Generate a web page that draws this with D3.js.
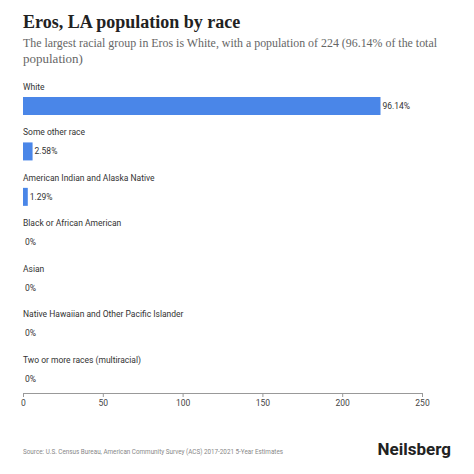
<!DOCTYPE html>
<html><head><meta charset="utf-8">
<script src="https://cdn.jsdelivr.net/npm/d3@7"></script>
<style>body{margin:0;background:#fff}</style></head>
<body><svg id="c" width="474" height="474"></svg>
<script>
const categories=["White","Some other race","American Indian and Alaska Native","Black or African American","Asian","Native Hawaiian and Other Pacific Islander","Two or more races (multiracial)"];
const values=[224,6,3,0,0,0,0];
const pctLabels=["96.14%","2.58%","1.29%","0%","0%","0%","0%"];
const ticks=[0,50,100,150,200,250];
const svg=d3.select("#c");
svg.append("text").attr("x",23).attr("y",28).attr("font-family","Liberation Serif, serif").attr("font-weight","bold").attr("font-size",18).attr("fill","#222").text("Eros, LA population by race");
svg.append("text").attr("x",23).attr("y",47).attr("font-family","Liberation Serif, serif").attr("font-size",13).attr("textLength",414).attr("lengthAdjust","spacingAndGlyphs").attr("fill","#666").text("The largest racial group in Eros is White, with a population of 224 (96.14% of the total");
svg.append("text").attr("x",23).attr("y",63).attr("font-family","Liberation Serif, serif").attr("font-size",13).attr("fill","#666").text("population)");
const x=d3.scaleLinear().domain([0,250]).range([23,422]);
const y=d3.scaleBand().domain(categories).range([80,398]);
const g=svg.selectAll("g.r").data(categories).enter().append("g");
g.append("text").attr("x",23).attr("y",c=>y(c)+10).attr("font-family","Roboto, sans-serif").attr("font-size",8.5).attr("fill","#333").text(c=>c);
g.append("rect").attr("x",x(0)).attr("y",c=>y(c)+17).attr("height",18).attr("width",(c,i)=>x(values[i])-x(0)).attr("fill","#4a86e8");
g.append("text").attr("x",(c,i)=>x(values[i])+2).attr("y",c=>y(c)+29).attr("font-family","Roboto, sans-serif").attr("font-size",8.5).attr("fill","#333").text((c,i)=>pctLabels[i]);
const ax=svg.append("g").attr("transform","translate(0,393)").call(d3.axisBottom(x).tickValues(ticks).tickSize(4));
ax.select(".domain").attr("stroke","#999");
ax.selectAll(".tick line").attr("stroke","#999");
ax.selectAll("text").attr("font-family","Roboto, sans-serif").attr("font-size",8.5).attr("fill","#444");
svg.append("text").attr("x",23).attr("y",454).attr("font-family","Roboto, sans-serif").attr("font-size",8).attr("textLength",260).attr("lengthAdjust","spacingAndGlyphs").attr("fill","#888").text("Source: U.S. Census Bureau, American Community Survey (ACS) 2017-2021 5-Year Estimates");
svg.append("text").attr("x",451).attr("y",455).attr("text-anchor","end").attr("font-family","Roboto, sans-serif").attr("font-weight","bold").attr("font-size",17).attr("fill","#222").text("Neilsberg");
</script></body></html>
